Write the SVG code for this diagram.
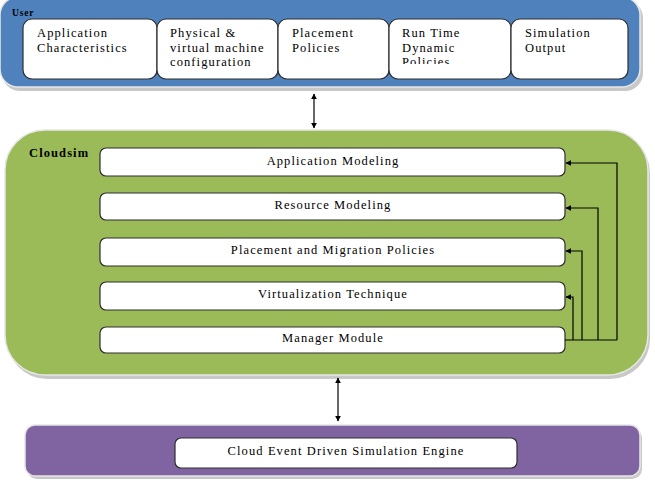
<svg xmlns="http://www.w3.org/2000/svg" width="655" height="484" viewBox="0 0 655 484">
<style>
.t{font-family:"Liberation Serif","Times New Roman",serif;font-size:12.5px;fill:#000;letter-spacing:1.1px}
.c{text-anchor:middle}
.b{font-weight:bold}
.box{fill:#fff;stroke:#2e2e2e;stroke-width:1.2}
.shadow{fill:#c8c8c8}
.conn{fill:none;stroke:#000;stroke-width:1.2}
</style>
<defs>
<marker id="ah" viewBox="0 0 10 10" refX="9" refY="5" markerWidth="6" markerHeight="6" orient="auto-start-reverse" markerUnits="userSpaceOnUse">
<path d="M0,0 L10,5 L0,10 z" fill="#000"/>
</marker>
<clipPath id="clip4"><rect x="389" y="19" width="122" height="45"/></clipPath>
</defs>
<rect width="655" height="484" fill="#fff"/>

<g id="user">
<rect class="shadow" x="2" y="0" width="641" height="91" rx="18"/>
<rect x="0" y="-3" width="640" height="90" rx="18" fill="#4F81BD" stroke="#e6e6e6" stroke-width="1.5"/>
<text class="t b" x="12" y="16" style="font-size:9.5px;letter-spacing:0.8px">User</text>
</g>
<g id="app-char">
<rect class="box" x="23" y="19" width="134" height="60" rx="9"/>
<text class="t" x="37" y="37">Application</text>
<text class="t" x="37" y="51.5">Characteristics</text>
</g>
<g id="phys-virt">
<rect class="box" x="157" y="19" width="121" height="60" rx="9"/>
<text class="t" x="170" y="37">Physical &amp;</text>
<text class="t" x="170" y="51.5">virtual machine</text>
<text class="t" x="170" y="66">configuration</text>
</g>
<g id="placement">
<rect class="box" x="278" y="19" width="111" height="60" rx="9"/>
<text class="t" x="292" y="37">Placement</text>
<text class="t" x="292" y="51.5">Policies</text>
</g>
<g id="runtime">
<rect class="box" x="389" y="19" width="122" height="60" rx="9"/>
<g clip-path="url(#clip4)">
<text class="t" x="402" y="37">Run Time</text>
<text class="t" x="402" y="51.5">Dynamic</text>
<text class="t" x="402" y="66">Policies</text>
</g>
</g>
<g id="simout">
<rect class="box" x="511" y="19" width="117" height="60" rx="9"/>
<text class="t" x="525" y="37">Simulation</text>
<text class="t" x="525" y="51.5">Output</text>
</g>

<g id="cloudsim">
<rect class="shadow" x="7" y="133" width="643" height="246" rx="40"/>
<rect x="5" y="130" width="643" height="245" rx="40" fill="#9BBB59" stroke="#e6e6e6" stroke-width="1.5"/>
<text class="t b" x="29" y="157">Cloudsim</text>
</g>
<g id="app-model">
<rect class="box" x="100" y="148" width="465" height="28" rx="6"/>
<text class="t c" x="333" y="165">Application Modeling</text>
</g>
<g id="res-model">
<rect class="box" x="100" y="193" width="465" height="27" rx="6"/>
<text class="t c" x="333" y="209">Resource Modeling</text>
</g>
<g id="place-mig">
<rect class="box" x="100" y="238" width="465" height="28" rx="6"/>
<text class="t c" x="333" y="254">Placement and Migration Policies</text>
</g>
<g id="virt">
<rect class="box" x="100" y="282" width="465" height="28" rx="6"/>
<text class="t c" x="333" y="298">Virtualization Technique</text>
</g>
<g id="manager">
<rect class="box" x="100" y="327" width="465" height="26" rx="6"/>
<text class="t c" x="333" y="342">Manager Module</text>
</g>

<g id="engine">
<rect class="shadow" x="27" y="428" width="615" height="51" rx="10"/>
<rect x="25" y="425" width="615" height="51" rx="10" fill="#8064A2" stroke="#e6e6e6" stroke-width="1.5"/>
</g>
<g id="engine-box">
<rect class="box" x="175" y="438" width="342" height="30" rx="6"/>
<text class="t c" x="346" y="455">Cloud Event Driven Simulation Engine</text>
</g>

<g id="connectors">
<line class="conn" x1="314" y1="94" x2="314" y2="128" marker-start="url(#ah)" marker-end="url(#ah)"/>
<line class="conn" x1="338" y1="378" x2="338" y2="421" marker-start="url(#ah)" marker-end="url(#ah)"/>
<path class="conn" d="M565,340 H617"/>
<path class="conn" d="M617,340 V163 H566" marker-end="url(#ah)"/>
<path class="conn" d="M598,340 V208 H566" marker-end="url(#ah)"/>
<path class="conn" d="M582,340 V251 H566" marker-end="url(#ah)"/>
<path class="conn" d="M573,340 V297 H566" marker-end="url(#ah)"/>
</g>
</svg>
